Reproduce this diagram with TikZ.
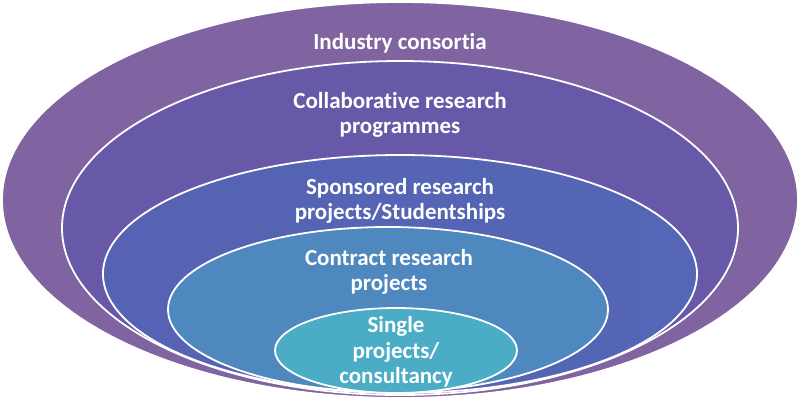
\documentclass[tikz,border=0pt]{standalone}
\usepackage{fontspec}
\setmainfont[Ligatures=NoCommon]{Carlito}
\definecolor{cA}{HTML}{8064A2}
\definecolor{cB}{HTML}{6759A8}
\definecolor{cC}{HTML}{5463B4}
\definecolor{cD}{HTML}{4F87BF}
\definecolor{cE}{HTML}{4BACC6}
\tikzset{
  ring/.style={draw=white, line width=1.8pt},
  lbl/.style={text=white, align=center, font=\fontsize{23}{25.5}\selectfont\bfseries, inner sep=0pt}
}
\begin{document}
\begin{tikzpicture}[x=1pt,y=-1pt]
\useasboundingbox (0,0) rectangle (800,402);
\fill[white] (0,0) rectangle (800,402);
\path[ring, fill=cA] (400,200) ellipse [x radius=398pt, y radius=198pt];
\path[ring, fill=cB] (400,228) ellipse [x radius=338pt, y radius=167pt];
\path[ring, left color=cC!90!cB, right color=cC!92!cD] (400,274) ellipse [x radius=297pt, y radius=119pt];
\path[ring, fill=cD] (388,309.5) ellipse [x radius=220pt, y radius=82.5pt];
\path[ring, fill=cE] (396,350.5) ellipse [x radius=121pt, y radius=42.5pt];
\node[lbl] (t1) at (400,43) {Industry consortia};
\node[lbl] (t2) at (400,115) {Collaborative research\\programmes};
\node[lbl] (t3) at (400,201) {Sponsored research\\projects/Studentships};
\node[lbl] (t4) at (389,272) {Contract research\\projects};
\node[lbl] (t5) at (396,352) {Single\\projects/\\consultancy};
\end{tikzpicture}
\end{document}
